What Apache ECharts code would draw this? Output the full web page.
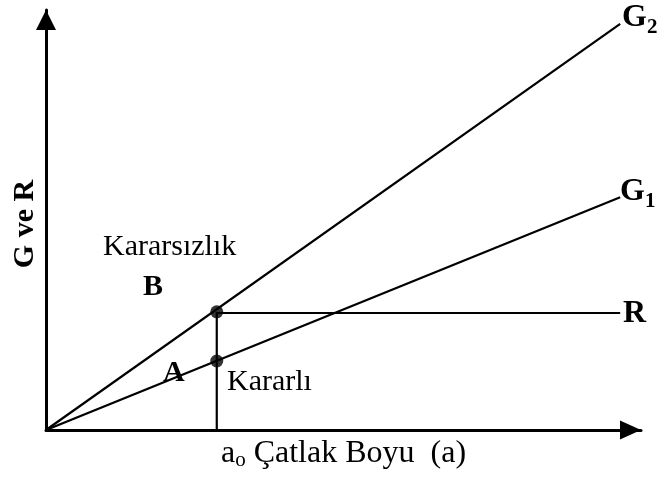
<!DOCTYPE html>
<html>
<head>
<meta charset="utf-8">
<script src="https://cdn.jsdelivr.net/npm/echarts@6/dist/echarts.min.js"></script>
<style>
  html, body { margin: 0; padding: 0; background: #fff; }
  #main { width: 657px; height: 485px; }
</style>
</head>
<body>
<div id="main"></div>
<script>
// line ends (x) and values
const lineX = [0, 96.5]
const g2Vals = [0, 67.7] // G2
const g1Vals = [0, 38.8] // G1
const rX = [28.7, 96.5]
const rVals = [19.5, 19.5] // R
const a0 = 28.7 // kritik catlak boyu
const dotVals = [19.7, 11.5] // G2 ve G1 uzerindeki noktalar

const serif = 'Liberation Serif'

const pairs = (xs, ys) => xs.map((x, i) => [x, ys[i]])

// G1, G2 etiketleri (alt indisli)
const subLabel = (x, y, sub) => ({
  type: 'text',
  x: x, y: y,
  style: {
    text: '{g|G}{s|' + sub + '}',
    verticalAlign: 'middle',
    rich: {
      g: { font: 'bold 32px ' + serif, fill: '#000', lineHeight: 32, verticalAlign: 'bottom' },
      s: { font: 'bold 21px ' + serif, fill: '#000', lineHeight: 21, verticalAlign: 'bottom', padding: [0, 0, -4, 0] }
    }
  }
})

let myChart = echarts.init(document.getElementById('main'))
myChart.setOption({
  animation: false,
  grid: {
    left: 46,
    right: 16,
    top: 10,
    bottom: 55
  },
  xAxis: {
    type: 'value',
    min: 0,
    max: 100,
    name: '{n|a}{s|o}{n| Çatlak Boyu  (a)}',
    nameLocation: 'middle',
    nameGap: 8,
    nameTextStyle: {
      rich: {
        n: { fontFamily: serif, fontSize: 32, color: '#000', lineHeight: 32, verticalAlign: 'bottom' },
        s: { fontFamily: serif, fontSize: 21, color: '#000', lineHeight: 21, verticalAlign: 'bottom', padding: [0, 0, -1, 0] }
      }
    },
    axisLine: {
      lineStyle: { color: '#000', width: 3 },
      symbol: ['none', 'triangle'],
      symbolSize: [19, 21],
      symbolOffset: [0, -10.5]
    },
    axisTick: { show: false },
    axisLabel: { show: false },
    splitLine: { show: false }
  },
  yAxis: {
    type: 'value',
    min: 0,
    max: 70,
    name: 'G ve R',
    nameLocation: 'middle',
    nameGap: 6,
    nameTextStyle: {
      fontFamily: serif,
      fontSize: 30,
      fontWeight: 'bold',
      color: '#000',
      padding: [0, 8, 0, 0]
    },
    axisLine: {
      lineStyle: { color: '#000', width: 3 },
      symbol: ['none', 'triangle'],
      symbolSize: [20, 20],
      symbolOffset: [0, -10]
    },
    axisTick: { show: false },
    axisLabel: { show: false },
    splitLine: { show: false }
  },
  series: [{
    name: 'G2',
    type: 'line',
    showSymbol: false,
    lineStyle: { color: '#000', width: 2.2 },
    data: pairs(lineX, g2Vals)
  }, {
    name: 'G1',
    type: 'line',
    showSymbol: false,
    lineStyle: { color: '#000', width: 2.2 },
    data: pairs(lineX, g1Vals)
  }, {
    name: 'R',
    type: 'line',
    showSymbol: false,
    lineStyle: { color: '#000', width: 2.2 },
    data: pairs(rX, rVals)
  }, {
    name: 'a0',
    type: 'line',
    showSymbol: false,
    lineStyle: { color: '#000', width: 2.2 },
    data: [[a0, 0], [a0, dotVals[0]]]
  }, {
    name: 'dots',
    type: 'scatter',
    symbolSize: 13,
    itemStyle: { color: '#000' },
    data: dotVals.map(v => [a0, v])
  }],
  graphic: [{
    type: 'text',
    x: 103, y: 247,
    style: { text: 'Kararsızlık', font: '30px ' + serif, fill: '#000', verticalAlign: 'middle' }
  }, {
    type: 'text',
    x: 143, y: 287,
    style: { text: 'B', font: 'bold 30px ' + serif, fill: '#000', verticalAlign: 'middle' }
  }, {
    type: 'text',
    x: 163, y: 373,
    style: { text: 'A', font: 'bold 30px ' + serif, fill: '#000', verticalAlign: 'middle' }
  }, {
    type: 'text',
    x: 227, y: 382,
    style: { text: 'Kararlı', font: '30px ' + serif, fill: '#000', verticalAlign: 'middle' }
  },
  subLabel(622, 18, '2'),
  subLabel(620, 192, '1'),
  {
    type: 'text',
    x: 623, y: 314,
    style: { text: 'R', font: 'bold 32px ' + serif, fill: '#000', verticalAlign: 'middle' }
  }]
})
</script>
</body>
</html>
